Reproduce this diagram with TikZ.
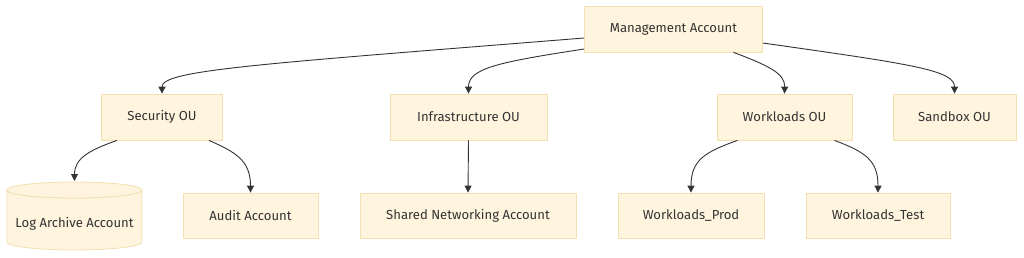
\documentclass[tikz,border=0pt]{standalone}
\usepackage{fontspec}
\setmainfont{Fira Sans}
\usetikzlibrary{arrows.meta,calc}
\definecolor{boxfill}{HTML}{FFF4DD}
\definecolor{boxline}{HTML}{F2DFB2}
\definecolor{ink}{HTML}{333333}
\begin{document}
\begin{tikzpicture}[x=1pt,y=-1pt,
  box/.style={rectangle,fill=boxfill,draw=boxline,line width=0.8pt,text=ink,font=\fontsize{13.1}{15}\selectfont,inner sep=0pt},
  conn/.style={draw=ink,line width=0.9pt,-{Triangle[length=7pt,width=7pt]}}]
\useasboundingbox (0,0) rectangle (1024,257);
\node[box,minimum width=178pt,minimum height=46pt] (mgmt) at (673.5,29) {Management Account};
\node[box,minimum width=121pt,minimum height=46pt] (sec) at (162,117) {Security OU};
\node[box,minimum width=157pt,minimum height=46pt] (infra) at (468.5,117) {Infrastructure OU};
\node[box,minimum width=135pt,minimum height=46pt] (work) at (784.5,117) {Workloads OU};
\node[box,minimum width=123pt,minimum height=46pt] (sand) at (954.5,117) {Sandbox OU};
\node[box,minimum width=135pt,minimum height=45pt] (audit) at (250.5,215.5) {Audit Account};
\node[box,minimum width=216pt,minimum height=45pt] (shared) at (468,215.5) {Shared Networking Account};
\node[box,minimum width=146pt,minimum height=45pt] (prod) at (691,215.5) {Workloads\_Prod};
\node[box,minimum width=144pt,minimum height=45pt] (test) at (878,215.5) {Workloads\_Test};
% cylinder
\path[fill=boxfill,draw=boxline,line width=0.8pt]
  (7,190) arc[start angle=180,end angle=360,x radius=67.5,y radius=-8]
  -- (142,242) arc[start angle=0,end angle=-180,x radius=67.5,y radius=-8] -- cycle;
\path[fill=boxfill,draw=boxline,line width=0.8pt] (74.5,190) ellipse[x radius=67.5,y radius=8];
\node[box,fill=none,draw=none] (log) at (74.5,224) {Log Archive Account};
\coordinate (logtop) at (74.5,181);
% connectors
\draw[conn] ([yshift=-9pt]mgmt.west) .. controls (260,64) and (162,70) .. (sec.north);
\draw[conn] ([yshift=-20pt]mgmt.west) .. controls (500,62) and (468.5,68) .. (infra.north);
\draw[conn] ([xshift=60pt]mgmt.south) .. controls (770,66) and (785,74) .. (work.north);
\draw[conn] ([yshift=-14pt]mgmt.east) .. controls (910,64) and (954.5,70) .. (sand.north);
\draw[conn] ([xshift=-45pt]sec.south) .. controls (90,150) and (74.5,158) .. (logtop);
\draw[conn] ([xshift=47pt]sec.south) .. controls (235,152) and (250.5,160) .. (audit.north);
\draw[conn] (infra.south) -- (shared.north);
\draw[conn] ([xshift=-47pt]work.south) .. controls (705,152) and (691,160) .. (prod.north);
\draw[conn] ([xshift=50pt]work.south) .. controls (865,152) and (878,160) .. (test.north);
\end{tikzpicture}
\end{document}
